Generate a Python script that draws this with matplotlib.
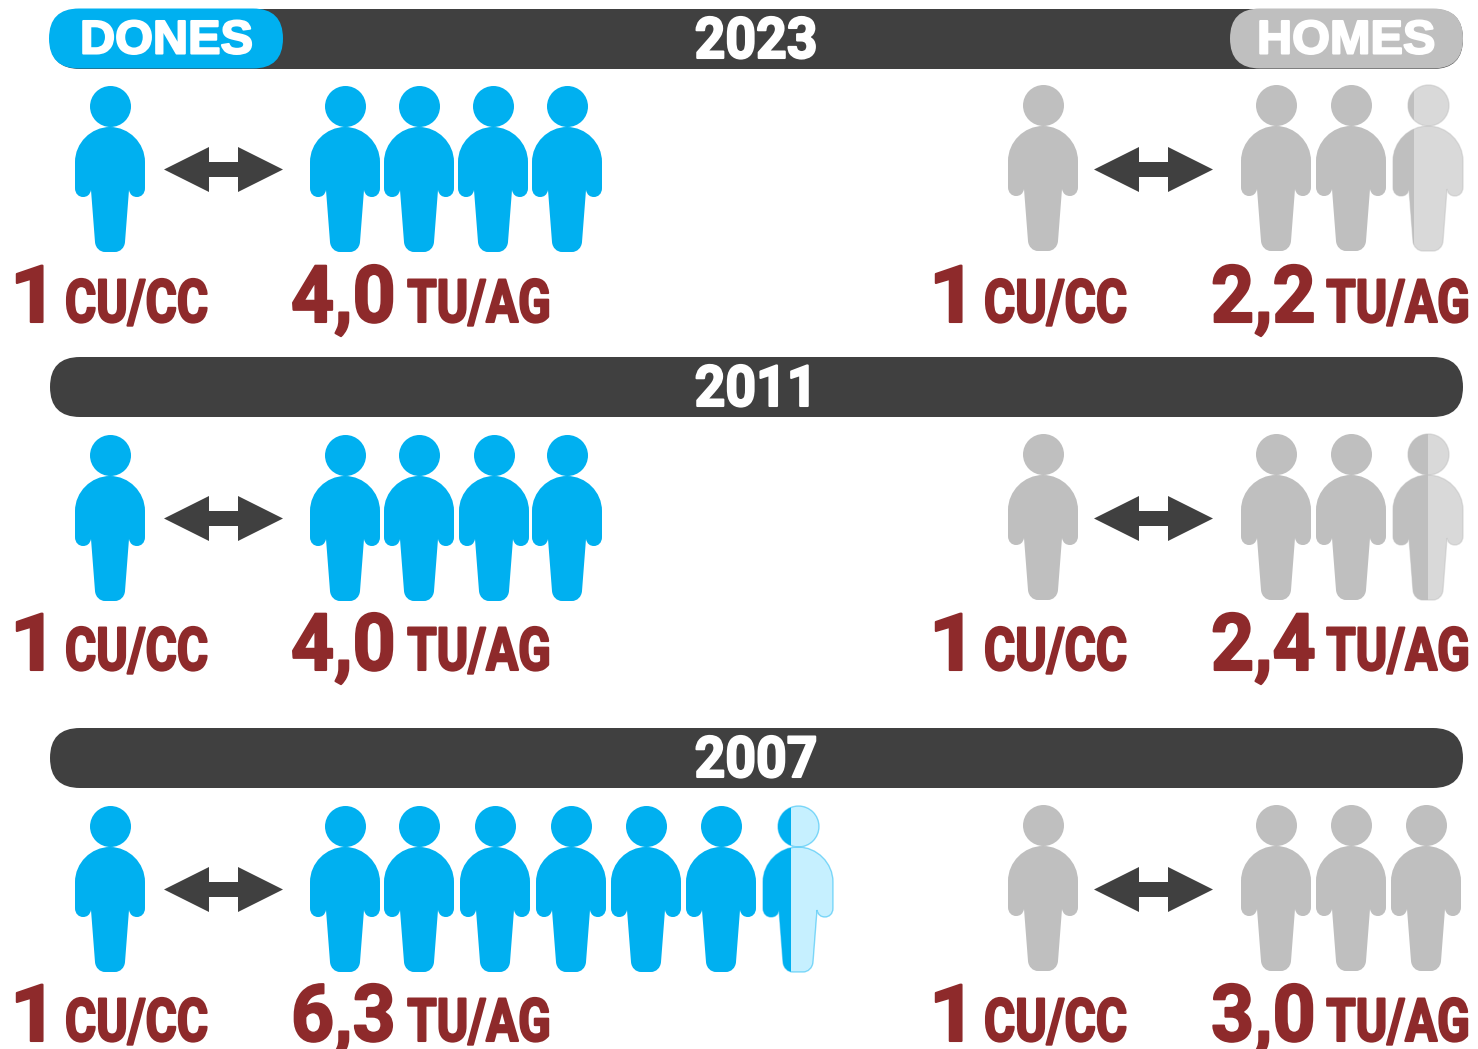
import math
import numpy as np
import matplotlib
matplotlib.use('Agg')
import matplotlib.pyplot as plt
from matplotlib.colors import to_rgba
from matplotlib.patches import PathPatch, FancyBboxPatch, Polygon, Rectangle
from matplotlib.patheffects import AbstractPathEffect
from matplotlib.path import Path
from matplotlib.text import Text
from matplotlib.transforms import Affine2D, Bbox

# Data
years = ['2023', '2011', '2007']
women_ratio = [4.0, 4.0, 6.3]
men_ratio = [2.2, 2.4, 3.0]
title_women = 'DONES'
title_men = 'HOMES'
label_cu = 'CU/CC'
label_tu = 'TU/AG'

# Layout, in pixels of the 1478x1049 picture
row_bar_top = [9, 357, 728]
row_icon_top = [85, 434, 805]
row_text_base = [322, 670, 1041]
women_x = [[345, 419, 493, 567], [345, 419, 494, 567], [345, 419, 495, 571, 646, 721, 798]]
men_x = [[1276, 1351, 1428], [1276, 1351, 1428], [1276, 1351, 1426]]

BLUE = '#00B0F0'
BLUE_LIGHT = '#C6F0FF'
GREY = '#BFBFBF'
GREY_LIGHT = '#D9D9D9'
DARK = '#404040'
RED = '#8E2A2B'
FONT = ['Roboto', 'Liberation Sans', 'DejaVu Sans']
WIDE = ['Liberation Sans', 'DejaVu Sans']

fig = plt.figure(figsize=(14.78, 10.49), dpi=100)
ax = fig.add_axes([0, 0, 1, 1])
ax.set_xlim(0, 1478)
ax.set_ylim(1049, 0)
ax.axis('off')


class Squeeze(AbstractPathEffect):
    # the installed fonts have no condensed cut, so narrow the glyphs at draw time
    def __init__(self, sx, x0, lw=0.0):
        super().__init__()
        self.sx, self.x0, self.lw = sx, x0, lw

    def draw_path(self, renderer, gc, tpath, affine, rgbFace=None):
        squeezed = affine + Affine2D().translate(-self.x0, 0).scale(self.sx, 1).translate(self.x0, 0)
        gc0 = renderer.new_gc()
        gc0.copy_properties(gc)
        if self.lw > 0:
            gc0.set_foreground(rgbFace)
            gc0.set_linewidth(self.lw)
        renderer.draw_path(gc0, tpath, squeezed, rgbFace)
        gc0.restore()


class SqueezedText(Text):
    # reports the extent it really draws
    def __init__(self, x, y, s, sx, **kw):
        super().__init__(x, y, s, **kw)
        self.sx, self.x0 = sx, x

    def get_window_extent(self, renderer=None, dpi=None):
        bb = super().get_window_extent(renderer, dpi)
        x0 = self.x0 + (bb.x0 - self.x0) * self.sx
        x1 = self.x0 + (bb.x1 - self.x0) * self.sx
        return Bbox([[x0, bb.y0], [x1, bb.y1]])


def label(x, y, s, size, color, sx, ha='left', lw=1.5, family=FONT):
    t = SqueezedText(x, y, s, sx, color=color, family=family, fontweight='bold', fontsize=size,
                     ha=ha, va='baseline', zorder=5, path_effects=[Squeeze(sx, x, lw)])
    ax.add_artist(t)


def person_path():
    # right half of the outline, then mirrored
    C3, L = Path.CURVE4, Path.LINETO
    verts = [(0, 42), (19, 42), (35, 58), (35, 77), (35, 103),
             (35, 109), (31, 112), (27, 112), (23, 112), (20, 110), (19, 105),
             (15, 157), (14.5, 163), (10, 167), (5, 167), (0, 167)]
    codes = [Path.MOVETO, C3, C3, C3, L, C3, C3, C3, C3, C3, C3, L, C3, C3, C3, L]
    left = [(-x, y) for x, y in verts[::-1]][1:]
    body = Path(verts + left + [(0, 42)], codes + codes[::-1][:-1] + [Path.CLOSEPOLY])
    head = Path.circle((0.5, 21.5), 20.5)
    return Path.make_compound_path(head, body)


PERSON = person_path()


def draw_person(cx, top, color, light, frac=1.0):
    p = PERSON.transformed(Affine2D().translate(cx, top))
    if frac >= 1:
        ax.add_patch(PathPatch(p, fc=color, ec='none', zorder=3))
        return
    ax.add_patch(PathPatch(p, fc=light, ec=to_rgba(color, 0.45), lw=1.0, zorder=3))
    solid = PathPatch(p, fc=color, ec='none', zorder=4)
    ax.add_patch(solid)
    solid.set_clip_path(Rectangle((cx - 35, top), 70 * frac, 170, transform=ax.transData))


def draw_people(value, centres, top, color, light):
    n = math.ceil(value - 1e-9)
    for i in range(n):
        part = value - i
        # the part-filled figure is cut a little past its share
        frac = 1.0 if part >= 1 else part + 0.1
        draw_person(centres[i], top, color, light, frac)


def draw_arrow(x0, cy):
    w, hh, sh, hl = 119, 22.5, 7.5, 45
    pts = [(x0, cy), (x0 + hl, cy - hh), (x0 + hl, cy - sh), (x0 + w - hl, cy - sh),
           (x0 + w - hl, cy - hh), (x0 + w, cy), (x0 + w - hl, cy + hh),
           (x0 + w - hl, cy + sh), (x0 + hl, cy + sh), (x0 + hl, cy + hh)]
    ax.add_patch(Polygon(pts, closed=True, fc=DARK, ec='none', zorder=3))


def pill(x0, x1, top, color, h=60):
    ax.add_patch(FancyBboxPatch((x0, top), x1 - x0, h,
                                boxstyle='round,pad=0,rounding_size=%.1f' % (h / 2),
                                fc=color, ec='none', zorder=2))


def ratio_text(x_one, x_cu, x_val, x_tu_end, base, value):
    label(x_one, base, '1', 57, RED, 1.05)
    label(x_cu, base, label_cu, 43, RED, 0.8)
    label(x_val, base, ('%.1f' % value).replace('.', ','), 57, RED, 0.95)
    label(x_tu_end, base, label_tu, 43, RED, 0.8, ha='right')


for i, year in enumerate(years):
    top = row_bar_top[i]
    pill(50, 1463, top, DARK)
    label(756, top + 49, year, 41, 'white', 0.94, ha='center')

    icon = row_icon_top[i]
    cy = icon + 84.5
    # women, left side
    draw_person(110, icon, BLUE, BLUE_LIGHT)
    draw_arrow(164, cy)
    draw_people(women_ratio[i], women_x[i], icon, BLUE, BLUE_LIGHT)
    ratio_text(10, 65, 291, 551, row_text_base[i], women_ratio[i])
    # men, right side
    draw_person(1043, icon - 1, GREY, GREY_LIGHT)
    draw_arrow(1094, cy)
    draw_people(men_ratio[i], men_x[i], icon - 1, GREY, GREY_LIGHT)
    ratio_text(929, 984, 1211, 1470, row_text_base[i], men_ratio[i])

# the two sex headers sit on the first bar
pill(49, 283, row_bar_top[0] - 0.5, BLUE)
pill(1230, 1463, row_bar_top[0] - 0.5, GREY)
label(80, 53.5, title_women, 34, 'white', 1.03, family=WIDE)
label(1257, 53.5, title_men, 34, 'white', 1.03, family=WIDE)

fig.savefig('out.png', dpi=100, facecolor='white')
